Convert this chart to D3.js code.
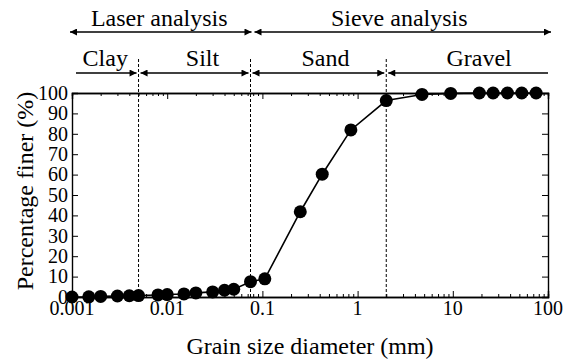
<!DOCTYPE html>
<html>
<head>
<meta charset="utf-8">
<script src="https://d3js.org/d3.v7.min.js"></script>
</head>
<body style="margin:0">
<script>
  // sieve / laser results
  const diameter = [0.001, 0.0015, 0.002, 0.003, 0.004, 0.005, 0.008, 0.01, 0.015, 0.02, 0.03, 0.04, 0.05, 0.075, 0.106,
                    0.25, 0.425, 0.85, 2, 4.75, 9.5, 19, 26.5, 37.5, 53, 75];
  const finer = [0, 0.1, 0.3, 0.5, 0.6, 0.7, 1, 1.2, 1.5, 2, 2.5, 3.3, 3.8, 7.5, 8.9,
                 41.8, 60.2, 81.9, 96.3, 99.3, 99.8, 100, 100, 100, 100, 100];
  const xTicks = [0.001, 0.01, 0.1, 1, 10, 100];
  const xTickLabels = ["0.001", "0.01", "0.1", "1", "10", "100"];
  const yTicks = [0, 10, 20, 30, 40, 50, 60, 70, 80, 90, 100];
  const bounds = [0.005, 0.075, 2];            // clay/silt, silt/sand, sand/gravel
  const classes = [["Clay", 0.001, 0.005], ["Silt", 0.005, 0.075], ["Sand", 0.075, 2], ["Gravel", 2, 100]];
  const methods = [["Laser analysis", 0.001, 0.075], ["Sieve analysis", 0.075, 100]];

  const width = 565, height = 360;
  const m = {left: 72, right: 17, top: 93, bottom: 63};

  const svg = d3.select("body").append("svg")
    .attr("width", width)
    .attr("height", height)
    .style("font-family", "'Liberation Serif'");

  // every label goes through this so the font is set on the element itself
  function label(sel, size) {
    return sel.attr("font-family", "Liberation Serif")
      .style("font-family", "'Liberation Serif'")
      .style("font-size", size + "px");
  }

  const defs = svg.append("defs");
  defs.append("marker")
    .attr("id", "head")
    .attr("viewBox", "0 0 10 10")
    .attr("refX", 10).attr("refY", 5)
    .attr("markerWidth", 9).attr("markerHeight", 7)
    .attr("markerUnits", "userSpaceOnUse")
    .attr("orient", "auto-start-reverse")
    .append("path").attr("d", "M0,0L10,5L0,10Z").attr("fill", "#000");

  const x = d3.scaleLog().domain([0.001, 100]).range([m.left, width - m.right]);
  const y = d3.scaleLinear().domain([0, 100]).range([height - m.bottom, m.top]);

  // minor ticks 2..9 of each decade
  var minor = [];
  for (var e = -3; e < 2; e++) {
    for (var k = 2; k < 10; k++) minor.push(k * Math.pow(10, e));
  }

  var bottomG = svg.append("g").attr("transform", "translate(0," + (height - m.bottom) + ")");
  bottomG.append("g").call(d3.axisBottom(x).tickValues(xTicks).tickSize(-6).tickFormat(""));
  bottomG.append("g").call(d3.axisBottom(x).tickValues(minor).tickSize(-3).tickFormat(""));
  label(bottomG.append("g").selectAll("text")
    .data(xTicks).enter().append("text")
    .attr("x", d => x(d))
    .attr("y", 18)
    .attr("text-anchor", "middle"), 20)
    .text((d, i) => xTickLabels[i]);

  var topG = svg.append("g").attr("transform", "translate(0," + m.top + ")");
  topG.append("g").call(d3.axisTop(x).tickValues(xTicks).tickSize(-6).tickFormat(""));
  topG.append("g").call(d3.axisTop(x).tickValues(minor).tickSize(-3).tickFormat(""));

  svg.append("g")
    .attr("transform", "translate(" + m.left + ",0)")
    .call(d3.axisLeft(y).tickValues(yTicks).tickSize(-6).tickFormat(""));
  label(svg.append("g").selectAll("text")
    .data(yTicks).enter().append("text")
    .attr("x", m.left - 4)
    .attr("y", d => y(d))
    .attr("dy", "0.34em")
    .attr("text-anchor", "end"), 20)
    .text(d => d);

  svg.append("g")
    .attr("transform", "translate(" + (width - m.right) + ",0)")
    .call(d3.axisRight(y).tickValues(yTicks).tickSize(-6).tickFormat(""));

  svg.selectAll(".domain").attr("stroke", "#000").attr("stroke-width", 1.4);
  svg.selectAll(".tick line").attr("stroke", "#000").attr("stroke-width", 1);

  // dashed class boundaries
  svg.append("g").selectAll("line")
    .data(bounds).enter().append("line")
    .attr("x1", d => x(d)).attr("x2", d => x(d))
    .attr("y1", 59).attr("y2", height - m.bottom)
    .attr("stroke", "#000")
    .attr("stroke-width", 1)
    .attr("stroke-dasharray", "3,2");

  // method arrows (top row)
  var mg = svg.append("g");
  mg.selectAll("line").data(methods).enter().append("line")
    .attr("x1", d => x(d[1]) + (d[1] == 0.001 ? -2 : 4))
    .attr("x2", d => x(d[2]) + (d[2] == 100 ? 3 : 1))
    .attr("y1", 32).attr("y2", 32)
    .attr("stroke", "#000").attr("stroke-width", 1.4)
    .attr("marker-start", "url(#head)")
    .attr("marker-end", "url(#head)");
  var methodShift = [-2, 0];
  label(mg.selectAll("text").data(methods).enter().append("text")
    .attr("x", (d, i) => x(Math.sqrt(d[1] * d[2])) + methodShift[i])
    .attr("y", 26)
    .attr("text-anchor", "middle"), 24)
    .text(d => d[0]);

  // soil class arrows (second row)
  var cg = svg.append("g");
  cg.selectAll("line").data(classes).enter().append("line")
    .attr("x1", d => x(d[1]) + (d[1] == 0.001 ? 4 : 2))
    .attr("x2", d => x(d[2]) + (d[2] == 100 ? 0 : -2))
    .attr("y1", 73).attr("y2", 73)
    .attr("stroke", "#000").attr("stroke-width", 1.4)
    .attr("marker-start", d => d[1] == 0.001 ? null : "url(#head)")
    .attr("marker-end", d => d[2] == 100 ? null : "url(#head)");
  var classShift = [0, 8, 7, 12];
  label(cg.selectAll("text").data(classes).enter().append("text")
    .attr("x", (d, i) => x(Math.sqrt(d[1] * d[2])) + classShift[i])
    .attr("y", 66)
    .attr("text-anchor", "middle"), 24)
    .text(d => d[0]);

  // curve
  var pts = diameter.map((d, i) => [d, finer[i]]);
  svg.append("path")
    .datum(pts)
    .attr("fill", "none")
    .attr("stroke", "#000")
    .attr("stroke-width", 1.6)
    .attr("d", d3.line().x(d => x(d[0])).y(d => y(d[1])));

  svg.append("g").selectAll("circle")
    .data(pts).enter().append("circle")
    .attr("cx", d => x(d[0]))
    .attr("cy", d => y(d[1]))
    .attr("r", 6.5)
    .attr("fill", "#000");

  // axis titles
  label(svg.append("text")
    .attr("x", (m.left + width - m.right) / 2)
    .attr("y", 354)
    .attr("text-anchor", "middle"), 24)
    .text("Grain size diameter (mm)");

  label(svg.append("text")
    .attr("transform", "translate(33,191) rotate(-90)")
    .attr("text-anchor", "middle"), 24)
    .text("Percentage finer (%)");
</script>
</body>
</html>
